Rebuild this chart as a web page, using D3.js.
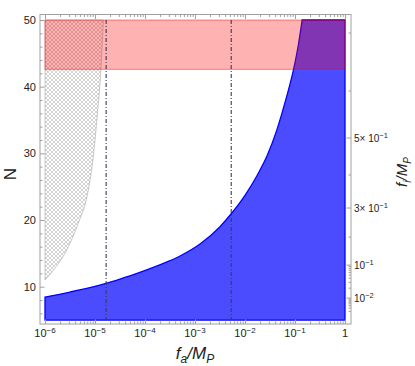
<!DOCTYPE html>
<html>
<head>
<meta charset="utf-8">
<script src="https://cdn.jsdelivr.net/npm/d3@7"></script>
<style>
  body { margin: 0; background: #fff; }
  text { font-family: "Liberation Sans", Arial, sans-serif; }
</style>
</head>
<body>
<svg id="chart"></svg>
<script>
let w = 415;
let h = 366;

// blue excluded region: boundary curve  N(f_a)
const blueFa = [1e-6, 3.16e-6, 1e-5, 1.66e-5, 3.16e-5, 7.9e-5, 3.16e-4, 5.0e-4, 1.26e-3, 3.16e-3,
                5.25e-3, 1e-2, 1.78e-2, 2.75e-2, 4.37e-2, 6.46e-2, 9.55e-2, 0.1175, 0.139];
const blueN  = [8.45, 9.2, 10.05, 10.5, 11.15, 12.15, 13.9, 14.6, 16.4, 19.0,
                20.9, 23.7, 26.8, 29.6, 33.6, 37.9, 42.9, 46.4, 50];
// hatched region: right boundary
const hatchFa = [1e-6, 1.48e-6, 2.51e-6, 4.9e-6, 6.6e-6, 7.9e-6, 9.1e-6, 1.09e-5, 1.32e-5, 1.47e-5];
const hatchN  = [11.0, 12.5, 15.0, 20.0, 22.8, 25.8, 29.0, 35.0, 42.9, 50];
// red band
const redN = [42.6, 50];
const faRange = [1e-6, 1];
const nBottom = 5;
// vertical dash-dot lines
const vLines = [1.67e-5, 5.3e-3];

// tick values
const xMajor = [1e-6, 1e-5, 1e-4, 1e-3, 1e-2, 1e-1, 1];
const xLabelBase = ["10", "10", "10", "10", "10", "10", "1"];
const xLabelExp = ["\u22126", "\u22125", "\u22124", "\u22123", "\u22122", "\u22121", ""];
const yMajor = [10, 20, 30, 40, 50];
const yMinor = [6, 8, 12, 14, 16, 18, 22, 24, 26, 28, 32, 34, 36, 38, 42, 44, 46, 48];

// right axis f_i/M_P  (non-linear in N)
const fiKnots = [0.001, 0.01, 0.1, 0.2, 0.3, 0.4, 0.5, 0.6, 0.7];
const nKnots  = [5.44, 8.29, 13.24, 17.44, 21.8, 26.75, 32.3, 39.35, 48.05];
const fiMajor = [0.01, 0.1, 0.3, 0.5];
const fiBase = ["10", "10", "3\u00d7 10", "5\u00d7 10"];
const fiExp = ["\u22122", "\u22121", "\u22121", "\u22121"];
const fiMinor = [0.002, 0.003, 0.004, 0.005, 0.006, 0.007, 0.008, 0.009,
                 0.02, 0.03, 0.04, 0.05, 0.06, 0.07, 0.08, 0.09, 0.2, 0.4, 0.6, 0.7];

const frameL = 40, frameR = 351, frameT = 14.5, frameB = 324;

let svg = d3.select("#chart").attr("width", w).attr("height", h);

let xScale = d3.scaleLog().domain(faRange).range([45, 345]);
let yScale = d3.scaleLinear().domain([10, 50]).range([286.7, 20]);
let fiToN = d3.scaleLinear().domain(fiKnots.map(Math.log10)).range(nKnots);
let fiScale = (f) => yScale(fiToN(Math.log10(f)));

let xMinor = [];
for (let e = -6; e < 0; e++) for (let k = 2; k <= 9; k++) xMinor.push(k * Math.pow(10, e));

// hatch pattern
let defs = svg.append("defs");
defs.append("pattern")
    .attr("id", "hatch")
    .attr("patternUnits", "userSpaceOnUse")
    .attr("width", 4).attr("height", 4)
  .append("path")
    .attr("d", "M0,0 L4,4 M4,0 L0,4 M-1,3 L1,5 M3,-1 L5,1 M-1,1 L1,-1 M3,5 L5,3")
    .attr("stroke", "#9a9a9a")
    .attr("stroke-width", 0.45);

// hatched region
let hatchPts = hatchFa.map((f, i) => [f, hatchN[i]]);
svg.append("path")
    .attr("d", d3.line().x(d => xScale(d[0])).y(d => yScale(d[1])).curve(d3.curveMonotoneX)(hatchPts)
        + "L" + xScale(faRange[0]) + "," + yScale(50) + "Z")
    .attr("fill", "url(#hatch)")
    .attr("stroke", "#aaa")
    .attr("stroke-width", 0.6);

// blue region
let bluePts = blueFa.map((f, i) => [f, blueN[i]]);
let blueCurve = d3.line().x(d => xScale(d[0])).y(d => yScale(d[1])).curve(d3.curveMonotoneX)(bluePts);
svg.append("path")
    .attr("d", blueCurve
        + "L" + xScale(faRange[1]) + "," + yScale(50)
        + "L" + xScale(faRange[1]) + "," + yScale(nBottom)
        + "L" + xScale(faRange[0]) + "," + yScale(nBottom) + "Z")
    .attr("fill", "rgb(0,0,255)")
    .attr("fill-opacity", 0.7)
    .attr("stroke", "#0000ff")
    .attr("stroke-width", 1.3);

// red band
svg.append("rect")
    .attr("x", xScale(faRange[0]))
    .attr("y", yScale(redN[1]))
    .attr("width", xScale(faRange[1]) - xScale(faRange[0]))
    .attr("height", yScale(redN[0]) - yScale(redN[1]))
    .attr("fill", "rgb(255,0,0)")
    .attr("fill-opacity", 0.3)
    .attr("stroke", "rgba(255,0,0,0.45)")
    .attr("stroke-width", 1);

// dash-dot lines
svg.append("g").selectAll("line")
    .data(vLines)
    .enter()
    .append("line")
        .attr("x1", d => xScale(d)).attr("x2", d => xScale(d))
        .attr("y1", yScale(50)).attr("y2", yScale(nBottom))
        .attr("stroke", "#3a3a55")
        .attr("stroke-width", 1.1)
        .attr("stroke-dasharray", "4,2,1,2");

// frame
svg.append("rect")
    .attr("x", frameL).attr("y", frameT)
    .attr("width", frameR - frameL).attr("height", frameB - frameT)
    .attr("fill", "none")
    .attr("stroke", "#a0a0a0")
    .attr("stroke-width", 1);

function styleAxis(g) {
    g.select(".domain").remove();
    g.selectAll("line").attr("stroke", "#a0a0a0");
    g.selectAll("text").attr("fill", "#222").attr("font-size", "11px");
}

// bottom axis
let bx = svg.append("g").attr("transform", `translate(0,${frameB})`);
bx.append("g").call(d3.axisBottom(xScale).tickValues(xMinor).tickSize(-2.5).tickFormat("")).call(styleAxis);
bx.append("g").call(d3.axisBottom(xScale).tickValues(xMajor).tickSize(-4.5).tickFormat("")).call(styleAxis);
let xl = bx.append("g").selectAll("text")
    .data(xMajor)
    .enter()
    .append("text")
        .attr("x", d => xScale(d))
        .attr("y", 13)
        .attr("text-anchor", "middle")
        .attr("font-size", "11px")
        .attr("fill", "#222");
xl.append("tspan").text((d, i) => xLabelBase[i]);
xl.append("tspan").attr("dy", -4.5).attr("font-size", "8px").text((d, i) => xLabelExp[i]);

// top axis
let tx = svg.append("g").attr("transform", `translate(0,${frameT})`);
tx.append("g").call(d3.axisTop(xScale).tickValues(xMinor).tickSize(-2.5).tickFormat("")).call(styleAxis);
tx.append("g").call(d3.axisTop(xScale).tickValues(xMajor).tickSize(-4.5).tickFormat("")).call(styleAxis);

// left axis
let ly = svg.append("g").attr("transform", `translate(${frameL},0)`);
ly.append("g").call(d3.axisLeft(yScale).tickValues(yMinor).tickSize(-2.5).tickFormat("")).call(styleAxis);
ly.append("g").call(d3.axisLeft(yScale).tickValues(yMajor).tickSize(-4.5).tickPadding(4).tickFormat(d3.format("d"))).call(styleAxis);

// right axis
let ry = svg.append("g").attr("transform", `translate(${frameR},0)`);
ry.selectAll("line.minor")
    .data(fiMinor)
    .enter()
    .append("line")
        .attr("x1", 0).attr("x2", -2.5)
        .attr("y1", d => fiScale(d)).attr("y2", d => fiScale(d))
        .attr("stroke", "#a0a0a0");
ry.selectAll("line.major")
    .data(fiMajor)
    .enter()
    .append("line")
        .attr("x1", 0).attr("x2", -4.5)
        .attr("y1", d => fiScale(d)).attr("y2", d => fiScale(d))
        .attr("stroke", "#a0a0a0");
let rl = ry.append("g").selectAll("text")
    .data(fiMajor)
    .enter()
    .append("text")
        .attr("x", 3)
        .attr("y", d => fiScale(d) + 3.5)
        .attr("font-size", "10px")
        .attr("fill", "#222");
rl.append("tspan").text((d, i) => fiBase[i]);
rl.append("tspan").attr("dy", -4).attr("font-size", "7.5px").text((d, i) => fiExp[i]);

// axis labels
let xlab = svg.append("text")
    .attr("x", 195).attr("y", 359)
    .attr("text-anchor", "middle")
    .attr("font-size", "17px")
    .attr("font-style", "italic")
    .attr("fill", "#222");
xlab.append("tspan").text("f");
xlab.append("tspan").attr("dy", 4).attr("font-size", "12px").text("a");
xlab.append("tspan").attr("dy", -4).text("/M");
xlab.append("tspan").attr("dy", 4).attr("font-size", "12px").text("P");

svg.append("text")
    .attr("transform", "translate(16,174) rotate(-90)")
    .attr("text-anchor", "middle")
    .attr("font-size", "17px")
    .attr("fill", "#222")
    .text("N");

let rlab = svg.append("text")
    .attr("transform", "translate(407,172) rotate(-90)")
    .attr("text-anchor", "middle")
    .attr("font-size", "15px")
    .attr("font-style", "italic")
    .attr("fill", "#222");
rlab.append("tspan").text("f");
rlab.append("tspan").attr("dy", 3.5).attr("font-size", "10px").text("i");
rlab.append("tspan").attr("dy", -3.5).text("/M");
rlab.append("tspan").attr("dy", 3.5).attr("font-size", "10px").text("P");
</script>
</body>
</html>
